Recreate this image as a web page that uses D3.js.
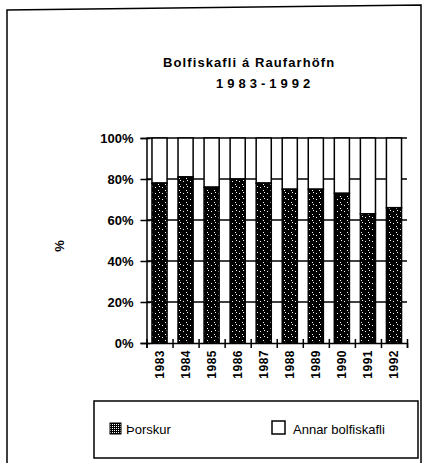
<!DOCTYPE html>
<html>
<head>
<meta charset="utf-8">
<script src="https://cdn.jsdelivr.net/npm/d3@7"></script>
<style>
  html, body { margin: 0; padding: 0; background: #fff; }
  svg { display: block; }
  text { font-family: "Liberation Sans", Arial, Helvetica, sans-serif; fill: #000; }
</style>
</head>
<body>
<svg id="chart" width="425" height="463"></svg>
<script>
// Share of cod (Þorskur) in the groundfish catch landed at Raufarhöfn
const years = ["1983", "1984", "1985", "1986", "1987", "1988", "1989", "1990", "1991", "1992"];
const thorskur = [0.78, 0.81, 0.76, 0.80, 0.78, 0.75, 0.75, 0.73, 0.63, 0.66];
const yTicks = [0, 0.2, 0.4, 0.6, 0.8, 1.0];
const seriesNames = ["Þorskur", "Annar bolfiskafli"];
const titleLines = ["Bolfiskafli á Raufarhöfn", "1983-1992"];

const svg = d3.select("#chart");

// Stipple fills for the cod segments
const defs = svg.append("defs");
const dark = defs.append("pattern").attr("id", "stipple")
  .attr("patternUnits", "userSpaceOnUse").attr("width", 7).attr("height", 6);
dark.append("rect").attr("width", 7).attr("height", 6).attr("fill", "#000");
dark.append("rect").attr("x", 1).attr("y", 1).attr("width", 1).attr("height", 1).attr("fill", "#fff");
dark.append("rect").attr("x", 4).attr("y", 4).attr("width", 1).attr("height", 1).attr("fill", "#fff");
dark.append("rect").attr("x", 5).attr("y", 0).attr("width", 1).attr("height", 1).attr("fill", "#fff");

const light = defs.append("pattern").attr("id", "stippleLight")
  .attr("patternUnits", "userSpaceOnUse").attr("width", 2).attr("height", 2);
light.append("rect").attr("width", 2).attr("height", 2).attr("fill", "#000");
light.append("rect").attr("x", 0).attr("y", 0).attr("width", 1).attr("height", 1).attr("fill", "#fff");

// Outer frame
svg.append("path")
  .attr("d", "M7,463 L7,10 L421,5 L421,463")
  .attr("fill", "none").attr("stroke", "#000").attr("stroke-width", 1.5);

// Title
svg.append("text").attr("x", 163).attr("y", 67)
  .attr("font-size", 13).attr("font-weight", "bold").attr("letter-spacing", 1.1)
  .text(titleLines[0]);
svg.append("text").attr("x", 216).attr("y", 88)
  .attr("font-size", 13).attr("font-weight", "bold").attr("letter-spacing", 4)
  .text(titleLines[1]);

// Scales
const x = d3.scaleBand().domain(years).range([146.5, 407]).paddingInner(0.42).paddingOuter(0.21);
const y = d3.scaleLinear().domain([0, 1]).range([343, 138]);
const xEdge = d3.scaleLinear().domain([0, years.length]).range([146.5, 407]);

// Horizontal gridlines
svg.append("g").selectAll("line").data(yTicks.filter(d => d > 0)).join("line")
  .attr("x1", xEdge(0)).attr("x2", xEdge(years.length))
  .attr("y1", d => y(d)).attr("y2", d => y(d))
  .attr("stroke", "#000").attr("stroke-width", 1.5);

// Stacked bars: cod at the bottom, other groundfish on top
const bars = svg.append("g").selectAll("g").data(years).join("g");
bars.append("rect")
  .attr("x", d => x(d)).attr("width", x.bandwidth())
  .attr("y", y(1)).attr("height", (d, i) => y(thorskur[i]) - y(1))
  .attr("fill", "#fff").attr("stroke", "#000").attr("stroke-width", 1.5);
bars.append("rect")
  .attr("x", d => x(d)).attr("width", x.bandwidth())
  .attr("y", (d, i) => y(thorskur[i])).attr("height", (d, i) => y(0) - y(thorskur[i]))
  .attr("fill", "url(#stipple)").attr("stroke", "#000").attr("stroke-width", 1.5);

// Y axis
const yAxis = svg.append("g").attr("transform", `translate(${xEdge(0)},0)`)
  .call(d3.axisLeft(y).tickValues(yTicks).tickFormat(d3.format(".0%")).tickSize(6).tickPadding(7));
yAxis.select(".domain").attr("stroke-width", 1.5);
yAxis.selectAll(".tick line").attr("x2", -6).attr("x1", 4).attr("stroke-width", 1.5);
yAxis.selectAll("text").attr("font-size", 13).attr("font-weight", "bold")
  .attr("font-family", "Liberation Sans, Arial, sans-serif").attr("fill", "#000");

// X axis: ticks on the category boundaries
const xAxis = svg.append("g").attr("transform", `translate(0,${y(0)})`)
  .call(d3.axisBottom(xEdge).tickValues(d3.range(years.length + 1)).tickFormat("").tickSize(5));
xAxis.select(".domain").attr("stroke-width", 1.5);
xAxis.selectAll(".tick line").attr("y1", -4).attr("y2", 5).attr("stroke-width", 1.5);

// Year labels, rotated
const xLabels = svg.append("g").attr("transform", `translate(0,${y(0)})`)
  .call(d3.axisBottom(x).tickSize(0).tickPadding(0));
xLabels.select(".domain").remove();
xLabels.selectAll("text")
  .attr("font-size", 12).attr("font-weight", "bold").attr("letter-spacing", 0.5)
  .attr("font-family", "Liberation Sans, Arial, sans-serif").attr("fill", "#000")
  .attr("transform", "rotate(-90)").attr("text-anchor", "end")
  .attr("x", -7).attr("y", 0).attr("dx", 0).attr("dy", "0.35em");

// Y axis title
svg.append("text").attr("transform", "translate(64,246) rotate(-90)")
  .attr("text-anchor", "middle").attr("font-size", 13).attr("font-weight", "bold")
  .text("%");

// Legend
const legend = svg.append("g");
legend.append("rect").attr("x", 94).attr("y", 401).attr("width", 324).attr("height", 57)
  .attr("fill", "#fff").attr("stroke", "#000").attr("stroke-width", 1.5);
legend.append("rect").attr("x", 110).attr("y", 423).attr("width", 11).attr("height", 11)
  .attr("fill", "url(#stippleLight)").attr("stroke", "#000").attr("stroke-width", 1);
legend.append("text").attr("x", 126).attr("y", 434).attr("font-size", 13).text(seriesNames[0]);
legend.append("rect").attr("x", 272).attr("y", 421).attr("width", 13).attr("height", 13)
  .attr("fill", "#fff").attr("stroke", "#000").attr("stroke-width", 1.5);
legend.append("text").attr("x", 293).attr("y", 434).attr("font-size", 13).text(seriesNames[1]);
</script>
</body>
</html>
